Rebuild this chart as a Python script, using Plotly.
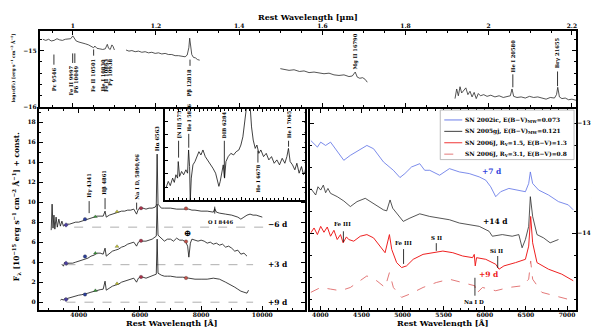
import plotly.graph_objects as go

# ---------------- top panel: NIR spectrum, log10 flux, four segments (micron)
nir1_wave = [0.928, 0.935, 0.942, 0.948, 0.955, 0.962, 0.968, 0.975, 0.982, 0.988,
             0.995, 1.000, 1.004, 1.008, 1.015, 1.022, 1.030, 1.038, 1.046, 1.050,
             1.053, 1.058, 1.065, 1.072, 1.078, 1.083, 1.086, 1.090, 1.094, 1.097, 1.100]
nir1_flux = [-14.80, -14.82, -14.80, -14.83, -14.82, -14.79, -14.81, -14.82, -14.80, -14.80,
             -14.79, -14.74, -14.80, -14.83, -14.85, -14.86, -14.88, -14.90, -14.93, -14.95,
             -14.92, -14.96, -14.97, -14.98, -14.97, -14.89, -14.96, -14.98, -14.90, -14.93, -14.99]
nir2_wave = [1.128, 1.135, 1.142, 1.150, 1.158, 1.166, 1.174, 1.182, 1.190, 1.198,
             1.206, 1.214, 1.222, 1.230, 1.238, 1.246, 1.254, 1.262, 1.270, 1.275,
             1.279, 1.281, 1.283, 1.286, 1.290, 1.295, 1.300, 1.305]
nir2_flux = [-14.99, -15.01, -15.00, -15.02, -15.01, -15.03, -15.02, -15.04, -15.03, -15.05,
             -15.04, -15.06, -15.05, -15.07, -15.07, -15.09, -15.09, -15.10, -15.11, -15.08,
             -14.95, -14.78, -14.93, -15.07, -15.12, -15.13, -15.16, -15.17]
nir3_wave = [1.499, 1.510, 1.520, 1.532, 1.545, 1.556, 1.568, 1.580, 1.592, 1.604,
             1.616, 1.628, 1.640, 1.652, 1.664, 1.672, 1.679, 1.684, 1.690, 1.697,
             1.703, 1.708]
nir3_flux = [-15.32, -15.33, -15.35, -15.34, -15.37, -15.36, -15.39, -15.38, -15.40, -15.41,
             -15.40, -15.43, -15.44, -15.43, -15.46, -15.45, -15.38, -15.47, -15.49, -15.48,
             -15.51, -15.56]
nir4_wave = [1.919, 1.923, 1.927, 1.931, 1.935, 1.940, 1.945, 1.950, 1.955, 1.960,
             1.965, 1.970, 1.975, 1.980, 1.988, 1.996, 2.005, 2.015, 2.025, 2.035,
             2.045, 2.052, 2.056, 2.060, 2.068, 2.078, 2.088, 2.098, 2.108, 2.118,
             2.128, 2.138, 2.148, 2.158, 2.163, 2.166, 2.170, 2.176, 2.184, 2.192,
             2.200, 2.210]
nir4_flux = [-15.85, -15.68, -15.80, -15.64, -15.75, -15.70, -15.66, -15.78, -15.72, -15.82,
             -15.74, -15.85, -15.76, -15.80, -15.78, -15.81, -15.79, -15.82, -15.80, -15.83,
             -15.81, -15.80, -15.68, -15.81, -15.83, -15.82, -15.84, -15.81, -15.83, -15.82,
             -15.84, -15.86, -15.83, -15.84, -15.78, -15.65, -15.82, -15.85, -15.84, -15.87,
             -15.86, -15.88]

# ---------------- bottom left: optical spectra (+ const.)
m6_wave = [3100, 3130, 3160, 3190, 3220, 3260, 3300, 3350, 3400, 3450,
           3500, 3600, 3700, 3800, 3900, 4000, 4100, 4200, 4300, 4400,
           4500, 4600, 4700, 4800, 4861, 4900, 5000, 5100, 5200, 5300,
           5400, 5500, 5600, 5700, 5800, 5890, 5950, 6000, 6100, 6200,
           6300, 6400, 6500, 6535, 6563, 6592, 6700, 6800, 6900, 7000,
           7200, 7400, 7600, 7700, 7800, 8000, 8200, 8400, 8446, 8500,
           8600, 8800, 9000, 9200, 9300, 9400, 9500, 9600, 9700, 9800,
           9900, 10000]
m6_flux = [7.2, 9.8, 7.4, 8.7, 7.3, 8.5, 7.5, 8.3, 7.6, 8.1,
           7.6, 7.8, 7.8, 7.9, 8.0, 8.0, 8.1, 8.2, 8.3, 8.4,
           8.5, 8.6, 8.6, 8.6, 9.1, 8.5, 8.7, 8.8, 8.9, 9.0,
           9.1, 9.1, 9.2, 9.2, 9.3, 8.8, 9.3, 9.4, 9.4, 9.3,
           9.4, 9.4, 9.5, 9.7, 14.8, 9.8, 9.4, 9.4, 9.4, 9.4,
           9.3, 9.3, 9.3, 9.2, 9.2, 9.1, 9.1, 9.0, 9.35, 9.0,
           8.9, 8.8, 8.7, 8.5, 8.3, 8.5, 8.7, 8.8, 8.7, 8.7,
           8.6, 8.5]
p3_wave = [3450, 3500, 3550, 3600, 3650, 3700, 3800, 3900, 4000, 4100,
           4200, 4300, 4400, 4500, 4600, 4700, 4800, 4861, 4900, 5000,
           5100, 5200, 5300, 5400, 5500, 5600, 5700, 5800, 5890, 5950,
           6000, 6100, 6200, 6300, 6400, 6535, 6563, 6592, 6700, 6800,
           6900, 7000, 7100, 7200, 7300, 7400, 7500, 7560, 7600, 7650,
           7700, 7800, 7900, 8000, 8100, 8200, 8300, 8400, 8500, 8600,
           8700, 8800, 8900, 9000, 9100, 9200, 9300, 9400, 9500]
p3_flux = [3.8, 3.6, 4.0, 3.7, 3.9, 3.9, 3.9, 4.0, 4.1, 4.2,
           4.3, 4.4, 4.6, 4.7, 4.9, 4.9, 4.8, 5.4, 4.6, 4.9,
           5.1, 5.2, 5.3, 5.5, 5.6, 5.8, 5.9, 6.0, 5.6, 6.0,
           6.1, 6.1, 6.1, 6.2, 6.3, 6.6, 9.8, 6.7, 6.4, 6.1,
           6.3, 6.3, 6.1, 6.4, 6.2, 6.2, 6.0, 5.6, 4.5, 5.9,
           6.3, 6.2, 6.1, 6.2, 6.1, 5.9, 6.0, 5.8, 5.9, 5.7,
           5.8, 5.5, 5.6, 5.4, 5.1, 5.2, 4.8, 4.9, 4.6]
p9_wave = [3400, 3450, 3500, 3550, 3600, 3700, 3800, 3900, 4000, 4100,
           4200, 4300, 4400, 4500, 4600, 4700, 4800, 4861, 4900, 5000,
           5100, 5200, 5300, 5400, 5500, 5600, 5700, 5800, 5890, 5950,
           6000, 6100, 6200, 6300, 6400, 6535, 6563, 6592, 6700, 6800,
           6900, 7000, 7200, 7400, 7600, 7800, 8000, 8200, 8400, 8600,
           8800, 9000, 9100, 9200, 9300, 9400, 9500, 9550]
p9_flux = [0.2, 0.3, 0.2, 0.4, 0.35, 0.45, 0.5, 0.6, 0.7, 0.75,
           0.8, 0.9, 1.0, 1.1, 1.2, 1.25, 1.3, 2.1, 1.2, 1.4,
           1.6, 1.7, 1.8, 2.0, 2.1, 2.2, 2.3, 2.4, 2.0, 2.4,
           2.5, 2.5, 2.4, 2.5, 2.6, 2.8, 6.3, 2.9, 2.7, 2.6,
           2.6, 2.6, 2.5, 2.5, 2.4, 2.3, 2.3, 2.3, 2.4, 2.3,
           2.0, 1.7, 1.5, 1.3, 1.1, 1.0, 0.9, 1.2]

baseline_level = [7.5, 3.75, 0.0]
baseline_start = [3850, 3600, 3600]
baseline_end = [10050, 9700, 9700]

# synthetic photometry points
phot_wave = [3585, 4206, 4545, 5252, 6036, 7507]
phot_m6 = [7.72, 8.30, 8.55, 9.05, 9.40, 9.37]
phot_p3 = [3.90, 4.57, 4.90, 5.57, 6.13, 6.06]
phot_p9 = [0.27, 0.77, 1.16, 1.86, 2.52, 2.42]
phot_color = ["#4b3f9e", "#2c3f9a", "#3a9a3a", "#c8c830", "#a83048", "#c05048"]
phot_symbol = ["diamond", "circle", "triangle-up", "triangle-up", "circle", "circle"]

# inset (arbitrary flux units)
inset_wave = [5604, 5632, 5656, 5684, 5704, 5723, 5743, 5751, 5767, 5791,
              5815, 5842, 5862, 5874, 5886, 5894, 5906, 5926, 5950, 5973,
              5997, 6021, 6045, 6073, 6100, 6132, 6164, 6196, 6219, 6235,
              6251, 6267, 6287, 6303, 6319, 6346, 6378, 6410, 6441, 6473,
              6497, 6521, 6541, 6557, 6569, 6593, 6608, 6624, 6644, 6668,
              6688, 6711, 6735, 6767, 6799, 6830, 6862, 6894, 6926, 6957,
              6989, 7021, 7045, 7064, 7084, 7112, 7140, 7164, 7191, 7219,
              7243, 7271]
inset_flux = [1.23, 1.9, 1.47, 2.23, 1.8, 2.57, 2.23, 3.9, 2.4, 2.9,
              2.57, 3.07, 2.73, 5.07, 3.4, -0.1, 2.23, 3.57, 3.9, 4.4,
              4.9, 4.57, 5.07, 4.4, 4.07, 3.73, 3.23, 2.73, 1.9, 1.4,
              1.9, 2.73, 3.57, 2.23, 3.9, 4.4, 4.73, 4.57, 4.9, 5.07,
              5.57, 6.4, 8.07, 9.4, 11.4, 11.4, 9.4, 7.4, 6.07, 5.23,
              5.57, 4.73, 5.07, 4.4, 4.73, 4.07, 4.4, 3.73, 4.07, 3.57,
              4.23, 3.73, 4.4, 5.23, 3.9, 3.57, 3.07, 3.73, 2.73, 3.4,
              2.57, 3.23]

# ---------------- bottom right: comparison spectra, log10 flux + const.
ic_wave = [3883, 3964, 4004, 4064, 4124, 4185, 4285, 4365, 4466, 4566,
           4647, 4767, 4888, 4968, 5028, 5109, 5209, 5269, 5330, 5450,
           5570, 5691, 5811, 5932, 6012, 6072, 6133, 6193, 6293, 6414,
           6494, 6534, 6554, 6582, 6655, 6775, 6896, 7016, 7076]
ic_flux = [-13.156, -13.216, -13.171, -13.201, -13.171, -13.231, -13.336, -13.291, -13.246, -13.201,
           -13.231, -13.351, -13.427, -13.493, -13.457, -13.397, -13.367, -13.427, -13.427, -13.472,
           -13.412, -13.442, -13.457, -13.487, -13.517, -13.577, -13.667, -13.622, -13.592, -13.607,
           -13.622, -13.547, -13.442, -13.547, -13.607, -13.652, -13.712, -13.742, -13.787]
gj_wave = [3883, 3943, 3971, 4004, 4036, 4064, 4092, 4124, 4205, 4285,
           4365, 4446, 4546, 4647, 4767, 4807, 4848, 4880, 4928, 5008,
           5089, 5209, 5330, 5450, 5570, 5691, 5811, 5932, 6052, 6092,
           6213, 6333, 6414, 6454, 6494, 6534, 6554, 6582, 6635, 6715,
           6795, 6876, 6896]
gj_flux = [-13.592, -13.652, -13.577, -13.607, -13.562, -13.631, -13.592, -13.637, -13.667, -13.706,
           -13.757, -13.712, -13.682, -13.727, -13.787, -13.796, -13.697, -13.772, -13.817, -13.892,
           -13.862, -13.823, -13.847, -13.862, -13.877, -13.907, -13.922, -13.937, -13.982, -14.027,
           -14.012, -14.027, -14.012, -14.132, -14.057, -13.937, -13.667, -13.847, -14.012, -14.042,
           -14.087, -14.057, -14.057]
j15_wave = [3883, 3923, 3964, 4004, 4044, 4084, 4124, 4165, 4205, 4245,
            4277, 4317, 4345, 4406, 4486, 4566, 4647, 4727, 4787, 4840,
            4868, 4928, 4988, 5048, 5129, 5249, 5370, 5490, 5611, 5731,
            5852, 5872, 5884, 5900, 6012, 6133, 6173, 6233, 6374, 6494,
            6534, 6558, 6582, 6635, 6775, 6936, 7076]
j15_flux = [-13.997, -13.952, -14.012, -13.937, -13.991, -13.943, -14.027, -13.973, -14.057, -14.012,
            -14.087, -14.033, -14.057, -14.072, -14.027, -14.012, -14.042, -14.117, -14.177, -14.012,
            -14.147, -14.267, -14.312, -14.297, -14.237, -14.192, -14.177, -14.162, -14.177, -14.207,
            -14.222, -14.192, -14.297, -14.222, -14.237, -14.282, -14.327, -14.297, -14.267, -14.237,
            -14.117, -13.847, -14.087, -14.267, -14.327, -14.372, -14.432]
j31_wave = [3883, 4004, 4124, 4245, 4365, 4486, 4566, 4687, 4787, 4840,
            4888, 4988, 5089, 5249, 5410, 5570, 5731, 5880, 5892, 5972,
            6133, 6293, 6454, 6534, 6558, 6582, 6695, 6855, 7076]
j31_flux = [-14.538, -14.493, -14.508, -14.523, -14.493, -14.433, -14.388, -14.433, -14.493, -14.358,
            -14.493, -14.583, -14.553, -14.493, -14.448, -14.418, -14.448, -14.478, -14.553, -14.493,
            -14.523, -14.493, -14.478, -14.418, -14.252, -14.418, -14.538, -14.568, -14.613]

legend_names = ["SN 2002ic, E(B−V)<sub>MW</sub>=0.073",
                "SN 2005gj, E(B−V)<sub>MW</sub>=0.121",
                "SN 2006J, R<sub>V</sub>=1.5, E(B−V)=1.3",
                "SN 2006J, R<sub>V</sub>=3.1, E(B−V)=0.8"]
BLUE, DARK, RED, PINK = "#5b6fe6", "#2a2a2a", "#ee2020", "#e06a6a"

FONT = "DejaVu Serif"


def spec(x, y, xa, ya, color, width=0.8, dash="solid"):
    return go.Scatter(x=x, y=y, xaxis=xa, yaxis=ya, mode="lines",
                      line=dict(color=color, width=width, dash=dash),
                      showlegend=False, hoverinfo="skip")


fig = go.Figure()
for w, f in [(nir1_wave, nir1_flux), (nir2_wave, nir2_flux),
             (nir3_wave, nir3_flux), (nir4_wave, nir4_flux)]:
    fig.add_trace(spec(w, f, "x", "y", DARK))

for lev, x0, x1 in zip(baseline_level, baseline_start, baseline_end):
    fig.add_trace(spec([x0, x1], [lev, lev], "x2", "y2", "#999999", 0.8, "dash"))
for w, f in [(m6_wave, m6_flux), (p3_wave, p3_flux), (p9_wave, p9_flux)]:
    fig.add_trace(spec(w, f, "x2", "y2", "#111111"))
for fl in [phot_m6, phot_p3, phot_p9]:
    fig.add_trace(go.Scatter(x=phot_wave, y=fl, xaxis="x2", yaxis="y2", mode="markers",
                             marker=dict(color=phot_color, symbol=phot_symbol, size=3.5,
                                         line=dict(color="#333333", width=0.3)),
                             showlegend=False, hoverinfo="skip"))

fig.add_trace(spec(inset_wave, inset_flux, "x3", "y3", "#111111"))

fig.add_trace(spec(ic_wave, ic_flux, "x4", "y4", BLUE))
fig.add_trace(spec(gj_wave, gj_flux, "x4", "y4", DARK))
fig.add_trace(spec(j15_wave, j15_flux, "x4", "y4", RED, 1.0))
fig.add_trace(spec(j31_wave, j31_flux, "x4", "y4", PINK, 0.9, "dash"))


def frame(**kw):
    d = dict(showline=True, linecolor="black", linewidth=2, mirror="ticks",
             ticks="inside", ticklen=4, tickwidth=1, tickcolor="black",
             showgrid=False, zeroline=False,
             tickfont=dict(family=FONT, size=6, color="black", weight="bold"),
             minor=dict(ticks="inside", ticklen=2, tickwidth=0.8, tickcolor="black"))
    minor = kw.pop("minor_dtick", None)
    if minor:
        d["minor"]["dtick"] = minor
    d.update(kw)
    return d


top_x = [32 / 600, 569 / 600]
top_y = [1 - 100 / 327, 1 - 23 / 327]
left_x = [31 / 600, 297 / 600]
bot_y = [1 - 305 / 327, 1 - 102 / 327]
inset_x = [157 / 600, 297 / 600]
inset_y = [1 - 194 / 327, 1 - 102 / 327]
right_x = [303 / 600, 569 / 600]

fig.update_layout(
    width=600, height=327, margin=dict(l=0, r=0, t=0, b=0),
    paper_bgcolor="white", plot_bgcolor="white", showlegend=False,
    font=dict(family=FONT, color="black", weight="bold"),
    xaxis=frame(anchor="y", domain=top_x, range=[0.921, 2.21], side="top",
                tick0=0, dtick=0.2, minor_dtick=0.05, ticklabelstandoff=-2),
    yaxis=frame(anchor="x", domain=top_y, range=[-16, -14.65], tickvals=[-16, -15],
                minor_dtick=0.2),
    xaxis2=frame(anchor="y2", domain=left_x, range=[2700, 11380], tick0=0, dtick=2000,
                 minor_dtick=500, tickformat="d", ticklabelstandoff=-2),
    yaxis2=frame(anchor="x2", domain=bot_y, range=[-0.8, 19.3], tick0=0, dtick=2,
                 minor_dtick=1),
    xaxis3=frame(anchor="y3", domain=inset_x, range=[5590, 7255], tick0=0, dtick=250,
                 showticklabels=False, ticklen=3),
    yaxis3=frame(anchor="x3", domain=inset_y, range=[0, 9.2], tick0=0, dtick=1.33,
                 showticklabels=False, ticklen=3),
    xaxis4=frame(anchor="y4", domain=right_x, range=[3880, 7110], tick0=0, dtick=500,
                 minor_dtick=100, tickformat="d", ticklabelstandoff=-2),
    yaxis4=frame(anchor="x4", domain=bot_y, range=[-14.7, -12.87], side="right",
                 tick0=0, dtick=1, minor_dtick=0.2, ticklabelstandoff=-2),
)

ann = []
shapes = []


def label(text, x, y, xr, yr, size=5.5, angle=-90, yanchor="middle", xanchor="center",
          color="black"):
    ann.append(dict(text=text, x=x, y=y, xref=xr, yref=yr, showarrow=False,
                    textangle=angle, xanchor=xanchor, yanchor=yanchor, borderpad=0,
                    font=dict(family=FONT, size=size, color=color, weight="bold")))


def tick(x, y0, y1, xr, yr):
    shapes.append(dict(type="line", x0=x, x1=x, y0=y0, y1=y1, xref=xr, yref=yr,
                       line=dict(color="black", width=0.8)))


# top panel line ids
top_names = ["Pε 9546", "Fe II 9997", "Pδ 10049", "Fe II 10501", "He I 10830",
             "Fe II 10863", "Pγ 10938", "Pβ 12818", "Mg II 16790", "He I 20580", "Brγ 21655"]
top_lx = [0.9546, 0.995, 1.0065, 1.0504, 1.072, 1.0816, 1.091, 1.2818, 1.679, 2.058, 2.1655]
top_ly = [-15.28, -15.25, -15.25, -15.12, -15.12, -15.12, -15.12, -15.30, -15.35, -15.40, -15.33]
top_anchor = ["top"] * 8 + ["bottom"] * 3
for t, x, y, a in zip(top_names, top_lx, top_ly, top_anchor):
    label(t, x, y, "x", "y", size=5.2, yanchor=a)
for x, y0, y1 in zip([0.9546, 0.9997, 1.0049, 1.0501, 1.2818, 2.058, 2.1655],
                     [-15.07, -15.05, -15.05, -14.98, -15.16, -15.42, -15.37],
                     [-15.25, -15.22, -15.22, -15.09, -15.27, -15.65, -15.63]):
    tick(x, y0, y1, "x", "y")

# bottom-left ids
for t, x, y in zip(["Hγ 4341", "Hβ 4861", "Na I D, 5890,96", "Hα 6563"],
                   [4341, 4861, 5893, 6563], [10.3, 10.6, 10.1, 15.0]):
    label(t, x, y, "x2", "y2", size=5.2, yanchor="bottom")
for x, y0, y1 in zip([4341, 4861, 5893, 8446], [10.1, 10.4, 9.95, 9.55],
                     [8.9, 9.3, 9.25, 8.85]):
    tick(x, y0, y1, "x2", "y2")
label("O I 8446", 8640, 8.05, "x2", "y2", size=5.2, angle=0)
label("⊕", 7560, 6.95, "x2", "y2", size=9, angle=0)
for t, y in zip(["−6 d", "+3 d", "+9 d"], [7.72, 3.75, -0.07]):
    label(t, 10500, y, "x2", "y2", size=7.5, angle=0)

# inset ids
for t, x, y, a in zip(["[N II] 5755", "He I 5876", "DIB 6284", "He I 6678", "He I 7065"],
                      [5755, 5876, 6300, 6700, 7065], [6.1, 6.8, 6.1, 3.7, 6.1],
                      ["bottom", "bottom", "bottom", "top", "bottom"]):
    label(t, x, y, "x3", "y3", size=5.0, yanchor=a)
for x, y0, y1 in zip([5755, 5876, 6300, 6700, 7065], [6.0, 6.7, 6.0, 3.8, 6.0],
                     [4.3, 5.3, 2.3, 5.0, 5.4]):
    tick(x, y0, y1, "x3", "y3")

# bottom-right ids
for t, x, y in zip(["Fe III", "Fe III", "S II", "Si II", "Na I D"],
                   [4265, 5009, 5410, 6153, 5871],
                   [-13.919, -14.087, -14.042, -14.162, -14.628]):
    label(t, x, y, "x4", "y4", size=5.5, angle=0)
for x, y0, y1 in zip([4280, 5012, 5410, 6157, 5880],
                     [-13.982, -14.144, -14.09, -14.207, -14.405],
                     [-14.081, -14.279, -14.16, -14.315, -14.568]):
    tick(x, y0, y1, "x4", "y4")
for t, x, y, c in zip(["+7 d", "+14 d", "+9 d"], [6093, 6133, 6049],
                      [-13.441, -13.892, -14.378], ["#3344dd", "black", RED]):
    label(t, x, y, "x4", "y4", size=7.5, angle=0, color=c)

# legend box (drawn by hand to keep it compact)
shapes.append(dict(type="rect", xref="paper", yref="paper", x0=433 / 600, x1=567 / 600,
                   y0=1 - 153 / 327, y1=1 - 103 / 327, fillcolor="white",
                   line=dict(color="#aaaaaa", width=0.8), layer="above"))
for i, (name, c, dsh) in enumerate(zip(legend_names, [BLUE, DARK, RED, PINK],
                                       ["solid", "solid", "solid", "dash"])):
    yy = 1 - (113 + 11.5 * i) / 327
    shapes.append(dict(type="line", xref="paper", yref="paper", x0=437 / 600, x1=455 / 600,
                       y0=yy, y1=yy, line=dict(color=c, width=0.9, dash=dsh), layer="above"))
    label(name, 457 / 600, yy, "paper", "paper", size=5.9, angle=0, xanchor="left")

# axis titles
label("Rest Wavelength [µm]", 0.5, 1 - 9 / 327, "paper", "paper", size=8, angle=0)
label("Rest Wavelength [Å]", 164 / 600, 1 - 324 / 327, "paper", "paper", size=8, angle=0,
      yanchor="bottom")
label("Rest Wavelength [Å]", 436 / 600, 1 - 324 / 327, "paper", "paper", size=8, angle=0,
      yanchor="bottom")
label("log<sub>10</sub>(F<sub>λ</sub>) [erg s<sup>−1</sup> cm<sup>−2</sup> Å<sup>−1</sup>]",
      5 / 600, 1 - 60 / 327, "paper", "paper", size=4.5)
label("F<sub>λ</sub> [10<sup>−15</sup> erg s<sup>−1</sup> cm<sup>−2</sup> Å<sup>−1</sup>] + const.",
      8 / 600, 1 - 200 / 327, "paper", "paper", size=7.5)
label("log<sub>10</sub>(F<sub>λ</sub>) [erg s<sup>−1</sup> cm<sup>−2</sup> Å<sup>−1</sup>] + const.",
      589 / 600, 1 - 208 / 327, "paper", "paper", size=6.8)

fig.update_layout(annotations=ann, shapes=shapes)
fig.write_html("out.html")
